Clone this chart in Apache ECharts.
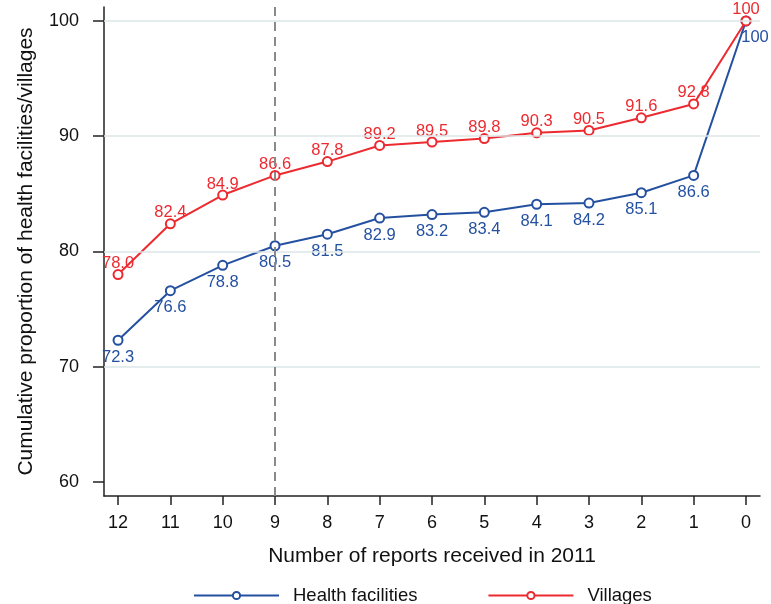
<!DOCTYPE html>
<html>
<head>
<meta charset="utf-8">
<script src="https://cdn.jsdelivr.net/npm/echarts@6/dist/echarts.min.js"></script>
<style>html,body{margin:0;padding:0;background:#fff}#c{width:771px;height:604px}</style>
</head>
<body>
<div id="c"></div>
<script>
const categories = [12, 11, 10, 9, 8, 7, 6, 5, 4, 3, 2, 1, 0];
const healthFacilities = [72.3, 76.6, 78.8, 80.5, 81.5, 82.9, 83.2, 83.4, 84.1, 84.2, 85.1, 86.6, 100];
const villages = [78.0, 82.4, 84.9, 86.6, 87.8, 89.2, 89.5, 89.8, 90.3, 90.5, 91.6, 92.8, 100];
const yTicks = [60, 70, 80, 90, 100];
const gridValues = [70, 80, 90, 100];
const cutoff = 9;

const BLUE = '#2450a0';
const RED = '#ec2a30';
const FONT = 'Liberation Sans, Arial, Helvetica, sans-serif';

const fmt = v => (v === 100 ? '100' : v.toFixed(1));

const hfData = categories.map((c, i) => {
  const d = {value: [c, healthFacilities[i]]};
  if (i === categories.length - 1) d.label = {offset: [9, 0]};
  return d;
});
const vData = categories.map((c, i) => [c, villages[i]]);

const chart = echarts.init(document.getElementById('c'), null, {renderer: 'canvas'});
chart.setOption({
  animation: false,
  textStyle: {fontFamily: FONT},
  grid: {left: 104, right: 11, top: 7, bottom: 108, containLabel: false},
  xAxis: {
    type: 'value',
    inverse: true,
    min: -0.268,
    max: 12.268,
    name: 'Number of reports received in 2011',
    nameLocation: 'middle',
    nameGap: 50,
    nameTextStyle: {fontSize: 21, color: '#111', fontFamily: FONT},
    axisLine: {show: true, onZero: false, lineStyle: {color: '#222', width: 1.5}},
    axisTick: {show: true, customValues: categories, length: 9, lineStyle: {color: '#222', width: 1.5}},
    axisLabel: {customValues: categories, fontSize: 18, color: '#111', margin: 18, fontFamily: FONT},
    splitLine: {show: false}
  },
  yAxis: {
    type: 'value',
    position: 'left',
    min: 58.79,
    max: 101.21,
    name: 'Cumulative proportion of health facilities/villages',
    nameLocation: 'middle',
    nameGap: 67,
    nameTextStyle: {fontSize: 21, color: '#111', fontFamily: FONT},
    axisLine: {show: true, onZero: false, lineStyle: {color: '#222', width: 1.5}},
    axisTick: {show: true, customValues: yTicks, length: 11, lineStyle: {color: '#222', width: 1.5}},
    axisLabel: {customValues: yTicks, fontSize: 18, color: '#111', margin: 25, fontFamily: FONT},
    splitLine: {show: false}
  },
  legend: {
    left: 188,
    top: 581,
    itemWidth: 85,
    itemHeight: 9,
    itemGap: 70,
    textStyle: {fontSize: 18.5, color: '#111', fontFamily: FONT, padding: [0, 0, 0, 9]},
    data: ['Health facilities', 'Villages']
  },
  series: [
    {
      name: 'grid',
      type: 'line',
      data: [],
      silent: true,
      markLine: {
        silent: true,
        symbol: 'none',
        label: {show: false},
        lineStyle: {color: '#dde6e8', width: 1.5, type: 'solid'},
        data: gridValues.map(v => ({yAxis: v}))
      }
    },
    {
      name: 'cutoff',
      type: 'line',
      data: [],
      silent: true,
      markLine: {
        silent: true,
        symbol: 'none',
        label: {show: false},
        lineStyle: {color: '#8a8a8a', width: 2, type: [9, 6]},
        data: [{xAxis: cutoff}]
      }
    },
    {
      name: 'Health facilities',
      type: 'line',
      data: hfData,
      symbol: 'emptyCircle',
      symbolSize: 9,
      color: BLUE,
      lineStyle: {color: BLUE, width: 2},
      itemStyle: {color: BLUE, borderColor: BLUE, borderWidth: 2},
      label: {
        show: true,
        position: 'bottom',
        distance: 3,
        color: BLUE,
        fontSize: 16.5,
        fontFamily: FONT,
        formatter: p => fmt(p.value[1])
      },
      z: 3
    },
    {
      name: 'Villages',
      type: 'line',
      data: vData,
      symbol: 'emptyCircle',
      symbolSize: 9,
      color: RED,
      lineStyle: {color: RED, width: 2},
      itemStyle: {color: RED, borderColor: RED, borderWidth: 2},
      label: {
        show: true,
        position: 'top',
        distance: -3,
        color: RED,
        fontSize: 16.5,
        fontFamily: FONT,
        formatter: p => fmt(p.value[1])
      },
      z: 4
    }
  ]
});
</script>
</body>
</html>
